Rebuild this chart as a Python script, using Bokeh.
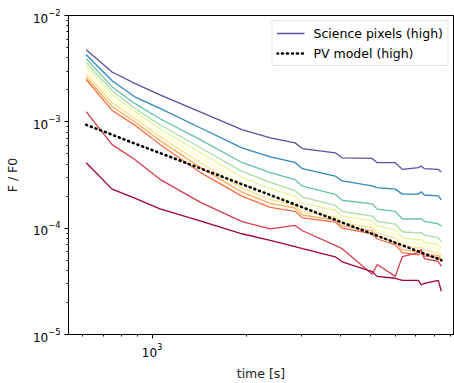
from bokeh.plotting import figure
from bokeh.models import FixedTicker, Legend, LegendItem
from bokeh.embed import file_html
from bokeh.resources import INLINE

# time grid [s]
time_s = [615, 745, 880, 1060, 1425, 1940, 2390, 2870, 3030, 3860, 4060, 5070, 5260, 6010, 6330, 7120, 7280, 7440, 8250, 8440]

# Science pixel curves (high), top to bottom
sci_1 = [4.76e-3, 2.94e-3, 2.30e-3, 1.79e-3, 1.24e-3, 8.43e-4, 7.06e-4, 6.34e-4, 5.61e-4, 5.11e-4, 4.59e-4, 4.53e-4, 4.13e-4, 4.13e-4, 3.57e-4, 3.71e-4, 3.84e-4, 3.63e-4, 3.57e-4, 3.37e-4]
sci_2 = [4.28e-3, 2.43e-3, 1.72e-3, 1.34e-3, 8.80e-4, 5.69e-4, 4.69e-4, 4.15e-4, 3.63e-4, 3.09e-4, 2.78e-4, 2.50e-4, 2.41e-4, 2.33e-4, 2.09e-4, 2.09e-4, 2.20e-4, 2.05e-4, 2.01e-4, 1.85e-4]
sci_3 = [3.93e-3, 2.13e-3, 1.49e-3, 1.07e-3, 6.80e-4, 4.15e-4, 3.33e-4, 2.86e-4, 2.48e-4, 2.08e-4, 1.83e-4, 1.69e-4, 1.51e-4, 1.44e-4, 1.22e-4, 1.22e-4, 1.23e-4, 1.16e-4, 1.10e-4, 1.04e-4]
sci_4 = [3.63e-3, 1.96e-3, 1.34e-3, 9.38e-4, 5.73e-4, 3.42e-4, 2.69e-4, 2.26e-4, 1.96e-4, 1.64e-4, 1.44e-4, 1.30e-4, 1.16e-4, 1.09e-4, 9.25e-5, 9.00e-5, 9.11e-5, 8.62e-5, 8.13e-5, 7.51e-5]
sci_5 = [3.38e-3, 1.80e-3, 1.25e-3, 8.61e-4, 5.15e-4, 3.01e-4, 2.36e-4, 1.99e-4, 1.72e-4, 1.47e-4, 1.30e-4, 1.17e-4, 1.05e-4, 9.59e-5, 8.13e-5, 7.74e-5, 7.84e-5, 7.41e-5, 7.00e-5, 6.46e-5]
sci_6 = [3.10e-3, 1.65e-3, 1.16e-3, 7.91e-4, 4.62e-4, 2.65e-4, 2.08e-4, 1.79e-4, 1.55e-4, 1.35e-4, 1.19e-4, 1.08e-4, 9.59e-5, 8.80e-5, 7.46e-5, 7.10e-5, 7.19e-5, 6.81e-5, 6.42e-5, 5.93e-5]
sci_7 = [2.84e-3, 1.51e-3, 1.08e-3, 7.26e-4, 4.15e-4, 2.38e-4, 1.87e-4, 1.64e-4, 1.42e-4, 1.27e-4, 1.12e-4, 1.01e-4, 9.00e-5, 8.08e-5, 6.85e-5, 6.52e-5, 6.60e-5, 6.25e-5, 5.89e-5, 5.45e-5]
sci_8 = [2.64e-3, 1.39e-3, 1.00e-3, 6.66e-4, 3.73e-4, 2.18e-4, 1.71e-4, 1.54e-4, 1.33e-4, 1.19e-4, 1.05e-4, 9.45e-5, 8.43e-5, 7.41e-5, 6.29e-5, 5.98e-5, 6.06e-5, 5.73e-5, 5.53e-5, 5.11e-5]
sci_9 = [2.50e-3, 1.28e-3, 9.32e-4, 6.11e-4, 3.35e-4, 2.00e-4, 1.57e-4, 1.44e-4, 1.25e-4, 1.14e-4, 1.00e-4, 8.86e-5, 7.91e-5, 6.96e-5, 5.89e-5, 5.61e-5, 5.81e-5, 5.49e-5, 5.29e-5, 4.89e-5]
sci_10 = [1.25e-3, 6.11e-4, 4.43e-4, 2.88e-4, 1.76e-4, 1.15e-4, 9.86e-5, 1.06e-4, 9.45e-5, 6.90e-5, 6.42e-5, 3.68e-5, 4.56e-5, 3.52e-5, 5.41e-5, 5.89e-5, 6.29e-5, 5.18e-5, 4.86e-5, 4.37e-5]
sci_11 = [4.13e-4, 2.33e-4, 1.92e-4, 1.52e-4, 1.17e-4, 8.86e-5, 7.67e-5, 6.70e-5, 6.42e-5, 5.38e-5, 4.83e-5, 3.90e-5, 3.52e-5, 3.38e-5, 3.23e-5, 3.23e-5, 2.92e-5, 3.03e-5, 3.23e-5, 2.55e-5]

# PV model (high)
pv_model = [9.38e-4, 7.57e-4, 6.25e-4, 5.09e-4, 3.66e-4, 2.59e-4, 2.05e-4, 1.67e-4, 1.57e-4, 1.20e-4, 1.13e-4, 8.84e-5, 8.49e-5, 7.30e-5, 6.90e-5, 6.05e-5, 5.89e-5, 5.76e-5, 5.13e-5, 5.00e-5]

series = [sci_1, sci_2, sci_3, sci_4, sci_5, sci_6, sci_7, sci_8, sci_9, sci_10, sci_11]
colors = ["#5e4fa2", "#3288bd", "#66c2a5", "#abdda4", "#e6f598", "#ffffbf",
          "#fee08b", "#fdae61", "#f46d43", "#d53e4f", "#9e0142"]

x_major = [1000]
x_minor = [600, 700, 800, 900, 2000, 3000, 4000, 5000, 6000, 7000, 8000, 9000]
y_major = [1e-5, 1e-4, 1e-3, 1e-2]
y_minor = [m * d for d in [1e-5, 1e-4, 1e-3] for m in range(2, 10)]

FONT = "DejaVu Sans"

p = figure(width=454, height=383, x_axis_type="log", y_axis_type="log",
           x_range=(540, 9230), y_range=(1e-5, 1e-2),
           output_backend="svg", toolbar_location=None,
           min_border_left=68, min_border_right=1, min_border_top=15, min_border_bottom=46)

p.xgrid.visible = False
p.ygrid.visible = False
p.outline_line_color = "black"
p.outline_line_width = 1
p.background_fill_color = "white"
p.border_fill_color = "white"

renderers = []
for vals, col in zip(series, colors):
    r = p.line(time_s, vals, line_color=col, line_width=1.3)
    renderers.append(r)

pv = p.line(time_s, pv_model, line_color="black", line_width=2.6,
            line_dash="1 4", line_cap="round")

p.xaxis.ticker = FixedTicker(ticks=x_major, minor_ticks=x_minor)
p.yaxis.ticker = FixedTicker(ticks=y_major, minor_ticks=y_minor)

for ax in (p.xaxis[0], p.yaxis[0]):
    ax.axis_line_color = "black"
    ax.major_tick_line_color = "black"
    ax.minor_tick_line_color = "black"
    ax.major_tick_out = 4
    ax.major_tick_in = 0
    ax.minor_tick_out = 2
    ax.minor_tick_in = 0
    ax.major_label_text_font = FONT
    ax.major_label_text_font_size = "12px"
    ax.major_label_text_color = "black"
    ax.axis_label_text_font = FONT
    ax.axis_label_text_font_size = "12.5px"
    ax.axis_label_text_font_style = "normal"
    ax.axis_label_text_color = "#222222"
    ax.major_label_standoff = 4

p.xaxis.axis_label = "time [s]"
p.yaxis.axis_label = "F / F0"
p.xaxis.axis_label_standoff = 6
p.yaxis.axis_label_standoff = 10

legend = Legend(items=[LegendItem(label="Science pixels (high)", renderers=[renderers[0]]),
                       LegendItem(label="PV model (high)", renderers=[pv])],
                location="top_right")
legend.margin = 5
legend.padding = 4
legend.spacing = 4
legend.glyph_width = 28
legend.glyph_height = 16
legend.label_height = 16
legend.label_standoff = 9
legend.label_text_font = FONT
legend.label_text_font_size = "12.5px"
legend.label_text_color = "black"
legend.border_line_color = "#cccccc"
legend.border_line_width = 1
legend.background_fill_alpha = 0.8
p.add_layout(legend, "center")

open("out.html", "w").write(file_html(p, INLINE))
